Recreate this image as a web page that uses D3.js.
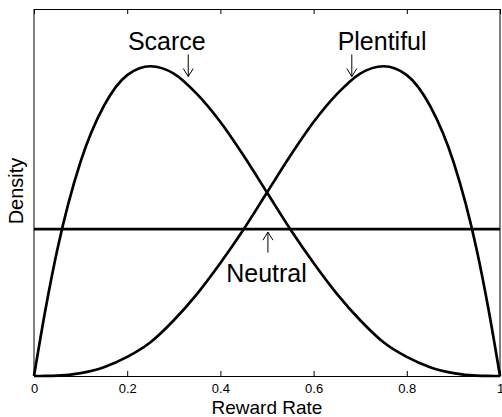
<!DOCTYPE html>
<html>
<head>
<meta charset="utf-8">
<script src="https://cdn.jsdelivr.net/npm/d3@7"></script>
<style>
  body { margin: 0; background: #fff; }
  text { font-family: "Liberation Sans", Arial, sans-serif; }
</style>
</head>
<body>
<svg width="502" height="417"></svg>
<script>
// Reward rate samples and densities
const reward_rate = [0, 0.025, 0.05, 0.1, 0.15, 0.2, 0.25, 0.3, 0.35, 0.4, 0.45, 0.5,
                     0.55, 0.6, 0.65, 0.7, 0.75, 0.8, 0.85, 0.9, 0.95, 0.975, 1];
const scarce_density = [0, 0.46, 0.86, 1.46, 1.84, 2.05, 2.11, 2.06, 1.92, 1.73, 1.50, 1.25,
                        1.00, 0.77, 0.56, 0.38, 0.23, 0.13, 0.06, 0.02, 0.002, 0.0003, 0];
const plentiful_density = [0, 0.0003, 0.002, 0.02, 0.06, 0.13, 0.23, 0.38, 0.56, 0.77, 1.00, 1.25,
                           1.50, 1.73, 1.92, 2.06, 2.11, 2.05, 1.84, 1.46, 0.86, 0.46, 0];
const neutral_density = [1, 1];
const neutral_rate = [0, 1];
const x_ticks = [0, 0.2, 0.4, 0.6, 0.8, 1];

const svg = d3.select("svg");
const plot_left = 34, plot_right = 500, plot_top = 9, plot_bottom = 376;

const x = d3.scaleLinear().domain([0, 1]).range([plot_left, plot_right]);
const y = d3.scaleLinear().domain([0, 2.5]).range([plot_bottom, plot_top]);

// Bottom axis with inward ticks
const x_axis = svg.append("g")
    .attr("transform", "translate(0," + plot_bottom + ")")
    .call(d3.axisBottom(x).tickValues(x_ticks).tickFormat(d3.format("")).tickSizeInner(-5).tickSizeOuter(0).tickPadding(8));
x_axis.selectAll("text").attr("font-size", 13).attr("fill", "#000");
x_axis.select(".domain").attr("stroke", "#000");

// Top axis, ticks only
const x_top = svg.append("g")
    .attr("transform", "translate(0," + plot_top + ")")
    .call(d3.axisTop(x).tickValues(x_ticks).tickFormat("").tickSizeInner(-5).tickSizeOuter(0));
x_top.select(".domain").attr("stroke", "#000");

// Left and right frame
svg.append("line").attr("x1", plot_left).attr("x2", plot_left).attr("y1", plot_top).attr("y2", plot_bottom).attr("stroke", "#000");
svg.append("line").attr("x1", plot_right).attr("x2", plot_right).attr("y1", plot_top).attr("y2", plot_bottom).attr("stroke", "#000");

const line = d3.line()
    .x(d => x(d[0]))
    .y(d => y(d[1]))
    .curve(d3.curveMonotoneX);

const series = [
    d3.zip(reward_rate, scarce_density),
    d3.zip(reward_rate, plentiful_density),
    d3.zip(neutral_rate, neutral_density)
];

svg.append("g")
    .selectAll("path")
    .data(series)
    .enter()
    .append("path")
        .attr("d", line)
        .attr("fill", "none")
        .attr("stroke", "#000")
        .attr("stroke-width", 2.7);

// Annotations
const labels = [
    { text: "Scarce", tx: 0.285, ty: 2.22, ax: 0.331, a0: 2.19, a1: 2.04 },
    { text: "Plentiful", tx: 0.747, ty: 2.22, ax: 0.682, a0: 2.19, a1: 2.04 },
    { text: "Neutral", tx: 0.499, ty: 0.64, ax: 0.502, a0: 0.84, a1: 0.98 }
];

labels.forEach(function(l) {
    svg.append("text")
        .attr("x", x(l.tx))
        .attr("y", y(l.ty))
        .attr("text-anchor", "middle")
        .attr("font-size", 25)
        .text(l.text);
    svg.append("line")
        .attr("x1", x(l.ax)).attr("x2", x(l.ax))
        .attr("y1", y(l.a0)).attr("y2", y(l.a1))
        .attr("stroke", "#000").attr("stroke-width", 1);
    const dir = l.a1 < l.a0 ? 1 : -1;  // arrow points down when going to smaller density
    const tipY = y(l.a1);
    svg.append("path")
        .attr("d", "M" + (x(l.ax) - 5) + "," + (tipY - dir * 8) + " L" + x(l.ax) + "," + tipY + " L" + (x(l.ax) + 5) + "," + (tipY - dir * 8))
        .attr("fill", "none").attr("stroke", "#000").attr("stroke-width", 1);
});

// Axis titles
svg.append("text")
    .attr("x", (plot_left + plot_right) / 2)
    .attr("y", 414)
    .attr("text-anchor", "middle")
    .attr("font-size", 19)
    .text("Reward Rate");

svg.append("text")
    .attr("transform", "translate(23,191) rotate(-90)")
    .attr("text-anchor", "middle")
    .attr("font-size", 20)
    .text("Density");
</script>
</body>
</html>
